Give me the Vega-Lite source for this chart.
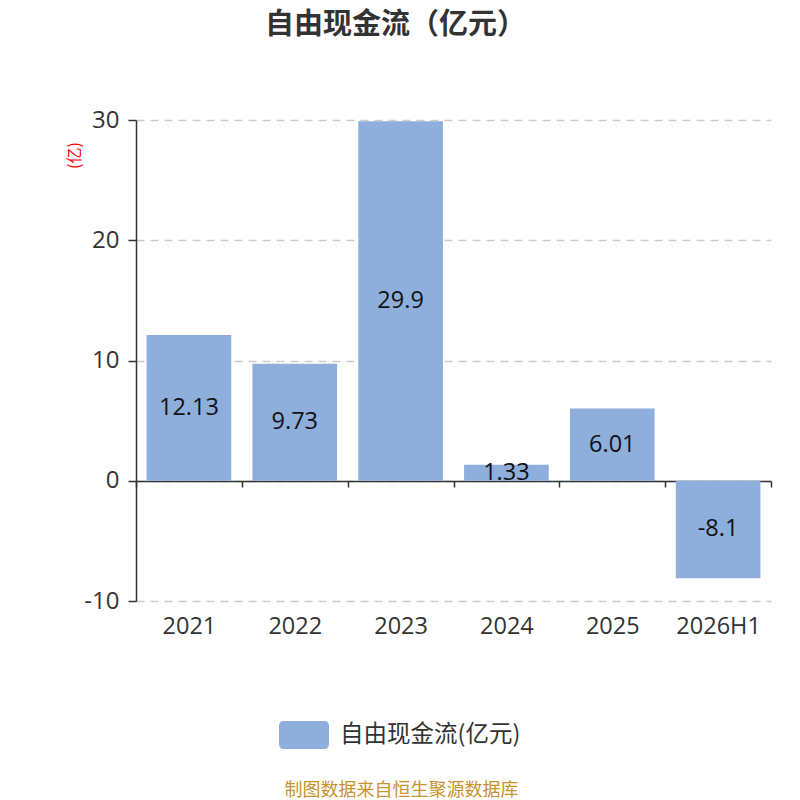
{
  "$schema": "https://vega.github.io/schema/vega-lite/v6.json",
  "width": 635,
  "height": 481,
  "padding": {"left": 66, "top": 11, "right": 10, "bottom": 5},
  "background": "white",
  "config": {
    "view": {"stroke": null},
    "font": "Open Sans, Noto Sans CJK SC"
  },
  "title": {
    "text": "自由现金流（亿元）",
    "font": "Noto Sans CJK SC",
    "fontSize": 29,
    "fontWeight": "bold",
    "color": "#333333",
    "anchor": "middle",
    "frame": "group",
    "dx": -58,
    "offset": 68
  },
  "data": {
    "values": [
      {"period": "2021", "value": 12.13},
      {"period": "2022", "value": 9.73},
      {"period": "2023", "value": 29.9},
      {"period": "2024", "value": 1.33},
      {"period": "2025", "value": 6.01},
      {"period": "2026H1", "value": -8.1}
    ]
  },
  "transform": [{"calculate": "datum.value / 2", "as": "mid"}],
  "layer": [
    {
      "mark": {"type": "bar", "width": {"band": 0.8}},
      "encoding": {
        "x": {
          "field": "period",
          "type": "nominal",
          "sort": null,
          "title": "制图数据来自恒生聚源数据库",
          "scale": {"paddingInner": 0, "paddingOuter": 0},
          "axis": {
            "orient": "bottom",
            "offset": -120,
            "domainColor": "#333333",
            "domainWidth": 1.5,
            "tickBand": "extent",
            "tickColor": "#333333",
            "tickSize": 6,
            "tickWidth": 1.5,
            "labelAngle": 0,
            "labelFontSize": 23.5,
            "labelColor": "#333333",
            "labelPadding": 127,
            "grid": false,
            "titleColor": "#c8922c",
            "titleFont": "Noto Sans CJK SC",
            "titleFontSize": 18,
            "titleFontWeight": "normal",
            "titleX": 265,
            "titleY": 309,
            "titleAlign": "center",
            "titleBaseline": "middle"
          }
        },
        "y": {
          "field": "value",
          "type": "quantitative",
          "title": "(亿)",
          "scale": {"domain": [-10, 30], "nice": false},
          "axis": {
            "values": [-10, 0, 10, 20, 30],
            "labelExpr": "replace(datum.label, '−', '-')",
            "domainColor": "#333333",
            "domainWidth": 1.5,
            "tickColor": "#333333",
            "tickSize": 8,
            "tickWidth": 1.5,
            "labelFontSize": 24,
            "labelColor": "#333333",
            "labelPadding": 9,
            "gridColor": "#cccccc",
            "gridDash": [8, 6],
            "gridWidth": 1.5,
            "titleColor": "red",
            "titleFont": "Noto Sans CJK SC",
            "titleFontSize": 16,
            "titleFontWeight": "normal",
            "titleAngle": -90,
            "titleX": -62,
            "titleY": 35,
            "titleAlign": "center",
            "titleBaseline": "middle"
          }
        },
        "color": {
          "datum": "自由现金流(亿元)",
          "scale": {"range": ["#8eaedb"]},
          "legend": {
            "orient": "none",
            "legendX": 143,
            "legendY": 590,
            "title": null,
            "symbolType": "M-0.8,-0.56L0.8,-0.56Q1,-0.56,1,-0.36L1,0.36Q1,0.56,0.8,0.56L-0.8,0.56Q-1,0.56,-1,0.36L-1,-0.36Q-1,-0.56,-0.8,-0.56Z",
            "symbolSize": 2500,
            "symbolStrokeWidth": 0,
            "symbolOpacity": 1,
            "labelFont": "Noto Sans CJK SC",
            "labelFontSize": 23.5,
            "labelLimit": 400,
            "labelColor": "#333333",
            "labelOffset": 11
          }
        }
      }
    },
    {
      "mark": {"type": "text", "fontSize": 23.5, "color": "#111111", "baseline": "middle"},
      "encoding": {
        "x": {"field": "period", "type": "nominal", "sort": null, "title": "制图数据来自恒生聚源数据库"},
        "y": {"field": "mid", "type": "quantitative", "title": "(亿)"},
        "text": {"field": "value", "type": "nominal"}
      }
    }
  ]
}
